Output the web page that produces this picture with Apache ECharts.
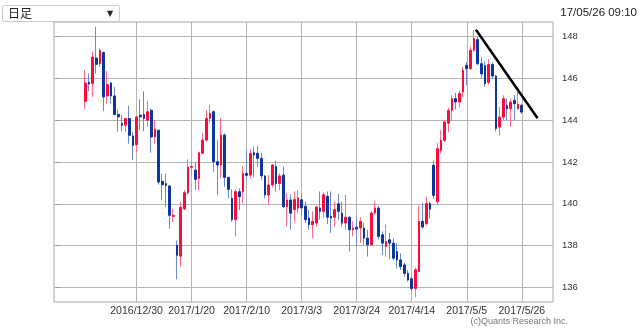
<!DOCTYPE html>
<html><head><meta charset="utf-8">
<script src="https://cdn.jsdelivr.net/npm/echarts@6/dist/echarts.min.js"></script>
<style>html,body{margin:0;padding:0;background:#fff}#c{width:640px;height:330px}</style>
</head><body><div id="c"></div>
<script>
// ---- data ----
const firstSlotDate = '2016/11/30';   // first (empty) weekday slot on the axis
const slotCount = 136;                // weekday slots shown
const firstCandleDate = '2016/12/12';
const labelDates = ['2016/12/30','2017/1/20','2017/2/10','2017/3/3','2017/3/24','2017/4/14','2017/5/5','2017/5/26'];
const yTicks = [136,138,140,142,144,146,148];

const opens = [
144.89,145.80,145.74,146.96,146.69,147.22,145.15,145.77,145.15,144.27,
143.83,143.75,144.07,143.24,142.82,144.23,144.26,143.99,144.46,143.19,
143.51,141.07,140.96,140.85,139.40,138.02,137.50,139.75,140.53,141.74,
141.61,141.21,142.41,143.04,144.08,144.40,142.01,141.85,143.28,141.26,
140.26,139.25,140.58,140.58,141.45,141.37,142.44,142.41,142.17,141.33,
140.42,140.90,141.77,140.97,141.37,139.86,140.18,139.72,139.79,140.19,
139.88,139.32,139.00,139.08,139.80,139.64,140.35,139.40,139.36,140.00,
139.56,139.08,139.36,138.76,138.88,138.84,138.84,138.36,138.04,139.56,
139.80,138.52,137.96,138.28,138.12,137.72,137.32,137.08,136.68,136.42,
135.95,136.77,139.16,139.05,140.01,141.84,140.10,142.55,143.03,143.85,
144.46,145.02,144.86,145.34,146.61,146.45,147.33,147.84,146.69,146.60,
145.80,146.65,146.10,143.66,144.14,144.70,144.54,144.94,144.54,144.70];
const closes = [
145.77,145.72,147.01,146.66,147.32,145.10,145.69,145.15,144.26,144.15,
143.75,144.07,143.27,142.79,144.15,144.15,144.07,144.39,143.19,143.56,
141.04,140.91,140.88,139.45,139.45,137.54,139.83,140.53,141.74,141.78,
141.17,142.44,143.04,144.08,144.32,142.01,141.85,143.28,141.26,140.69,
139.25,140.58,140.34,141.45,141.36,142.41,142.33,142.17,141.33,140.42,
140.90,141.85,140.97,141.33,139.86,140.18,139.55,140.20,140.28,139.80,
139.24,139.00,139.16,139.84,139.64,140.43,139.36,139.32,139.72,139.64,
139.08,139.36,138.76,138.84,138.79,139.16,138.36,138.04,139.56,139.80,
138.44,138.12,138.20,138.12,137.40,137.32,137.00,136.68,136.36,135.95,
136.85,139.16,138.89,140.01,139.74,140.40,142.63,143.03,143.91,144.45,
145.02,144.86,145.26,146.37,146.45,147.33,147.89,146.69,146.20,145.74,
146.65,146.10,143.60,144.14,145.02,144.54,144.86,144.78,144.75,144.38];
const lows = [
144.51,145.37,145.10,146.22,146.54,144.42,144.78,144.78,144.23,143.43,
143.46,143.43,142.87,142.08,142.47,143.51,143.46,143.67,142.44,142.87,
140.91,140.17,139.85,138.81,139.13,136.39,136.99,139.70,140.42,141.39,
140.66,140.66,142.38,142.96,143.84,141.53,140.42,141.21,140.82,140.26,
139.14,138.43,139.70,140.02,141.13,141.21,141.26,141.77,141.13,140.26,
139.94,140.78,140.58,140.66,139.78,138.92,138.76,139.10,139.55,139.40,
139.08,138.76,138.36,138.92,139.24,139.32,139.03,138.60,138.92,139.24,
138.92,138.76,137.72,138.44,137.96,138.12,138.04,137.48,138.00,139.48,
138.28,137.56,137.48,137.35,137.32,136.92,136.84,136.52,136.28,135.87,
135.55,136.74,138.81,138.97,139.30,140.24,139.95,142.40,142.95,143.40,
143.95,144.50,144.60,145.10,145.66,146.40,147.25,146.61,146.00,145.60,
145.70,145.95,143.45,143.26,143.98,143.98,143.66,143.98,144.50,144.30];
const highs = [
146.38,146.22,147.28,148.45,147.41,147.28,146.34,145.82,145.58,144.51,
144.23,144.10,144.67,143.43,144.19,144.99,145.37,144.91,144.54,143.99,
143.56,141.44,141.44,140.88,139.77,138.25,140.10,140.66,142.12,142.01,
142.01,142.49,143.36,144.48,144.72,144.45,143.04,144.08,143.36,141.29,
140.69,140.69,140.74,141.80,142.57,142.60,142.73,142.78,142.44,141.37,
141.37,141.90,142.06,141.45,141.77,140.50,140.45,140.60,140.65,140.51,
140.11,139.72,139.64,139.90,140.59,140.55,140.59,140.59,140.11,140.48,
140.11,140.43,139.40,139.16,139.36,139.36,139.08,138.76,139.64,140.11,
139.90,138.68,139.00,138.60,138.36,138.12,137.64,137.19,136.84,136.50,
136.95,139.90,140.06,140.32,140.09,142.08,142.90,143.51,143.99,144.59,
145.18,145.30,145.40,146.53,146.77,147.50,148.30,147.97,147.00,146.80,
146.90,146.75,146.15,144.62,145.18,145.02,145.02,145.18,145.34,144.78];
// hand-drawn trend line, in slot units / price
const trendLine = [[114.5, 148.31], [131.3, 144.08]];

// ---- build ----
function buildSlots(start, n) {
  const [y, m, d] = start.split('/').map(Number);
  const dt = new Date(Date.UTC(y, m - 1, d));
  const out = [];
  while (out.length < n) {
    const wd = dt.getUTCDay();
    if (wd !== 0 && wd !== 6) out.push(dt.getUTCFullYear() + '/' + (dt.getUTCMonth() + 1) + '/' + dt.getUTCDate());
    dt.setUTCDate(dt.getUTCDate() + 1);
  }
  return out;
}
const slots = buildSlots(firstSlotDate, slotCount);
const offset = slots.indexOf(firstCandleDate);
const labelIdx = labelDates.map(d => slots.indexOf(d));

const wickData = slots.map(() => '-');
const bodyData = slots.map(() => '-');
opens.forEach((o, i) => {
  const c = closes[i];
  wickData[offset + i] = [o, c, lows[i], highs[i]];
  bodyData[offset + i] = [o, c, Math.min(o, c), Math.max(o, c)];
});

const UP = '#ff0a3c', DOWN = '#0b36a0', UPW = '#ff6b8c', DOWNW = '#6a8bd3';
const chart = echarts.init(document.getElementById('c'));
chart.setOption({
  animation: false,
  backgroundColor: '#fff',
  grid: { left: 54, right: 87, top: 22, bottom: 28, show: true, borderColor: '#a8a8a8', borderWidth: 1, backgroundColor: '#fff' },
  xAxis: [
    { type: 'category', data: slots, boundaryGap: true, show: false },
    { type: 'value', min: -0.5, max: slotCount - 0.5, position: 'bottom',
      axisLine: { show: false },
      axisTick: { show: false, customValues: labelIdx },
      axisLabel: { customValues: labelIdx, formatter: v => slots[Math.round(v)], color: '#333', fontSize: 10.5, margin: 4, fontFamily: 'Liberation Sans' },
      splitLine: { show: true, lineStyle: { color: '#b4b4b4', width: 1 } } }
  ],
  yAxis: { type: 'value', position: 'right', min: 135.31, max: 148.68, scale: true,
    axisLine: { show: false },
    axisTick: { show: true, length: 4, customValues: yTicks, lineStyle: { color: '#999' } },
    axisLabel: { customValues: yTicks, color: '#333', fontSize: 9.5, margin: 9, fontFamily: 'Liberation Sans' },
    splitLine: { show: true, lineStyle: { color: '#b4b4b4', width: 1 } } },
  series: [
    { type: 'candlestick', name: 'wick', data: wickData, barWidth: 1, silent: true, z: 2,
      itemStyle: { color: UPW, color0: DOWNW, borderColor: UPW, borderColor0: DOWNW, borderColorDoji: DOWNW, borderWidth: 1 } },
    { type: 'candlestick', name: 'body', data: bodyData, barWidth: 2.2, silent: true, z: 3,
      itemStyle: { color: UP, color0: DOWN, borderColor: UP, borderColor0: DOWN, borderColorDoji: DOWN, borderWidth: 1 } },
    { type: 'line', xAxisIndex: 1, data: trendLine, symbol: 'none', silent: true, z: 4,
      lineStyle: { color: '#000', width: 2.5 } }
  ],
  graphic: [
    { type: 'rect', x: 2.5, y: 5.5, shape: { x: 0, y: 0, width: 117, height: 16, r: 2 }, style: { fill: '#fff', stroke: '#c8c8c8', lineWidth: 1 } },
    { type: 'text', x: 8, y: 13.5, style: { text: '日足', font: '12px "Noto Sans CJK JP"', fill: '#222', verticalAlign: 'middle' } },
    { type: 'text', x: 110, y: 13.5, style: { text: '▼', font: '8px "DejaVu Sans"', fill: '#222', align: 'center', verticalAlign: 'middle' } },
    { type: 'text', x: 637, y: 13, style: { text: '17/05/26 09:10', font: '11.5px "Liberation Sans"', fill: '#222', align: 'right', verticalAlign: 'middle' } },
    { type: 'text', x: 568, y: 321.5, style: { text: '(c)Quants Research Inc.', font: '9px "Liberation Sans"', fill: '#777', align: 'right', verticalAlign: 'middle' } }
  ]
});
</script></body></html>
